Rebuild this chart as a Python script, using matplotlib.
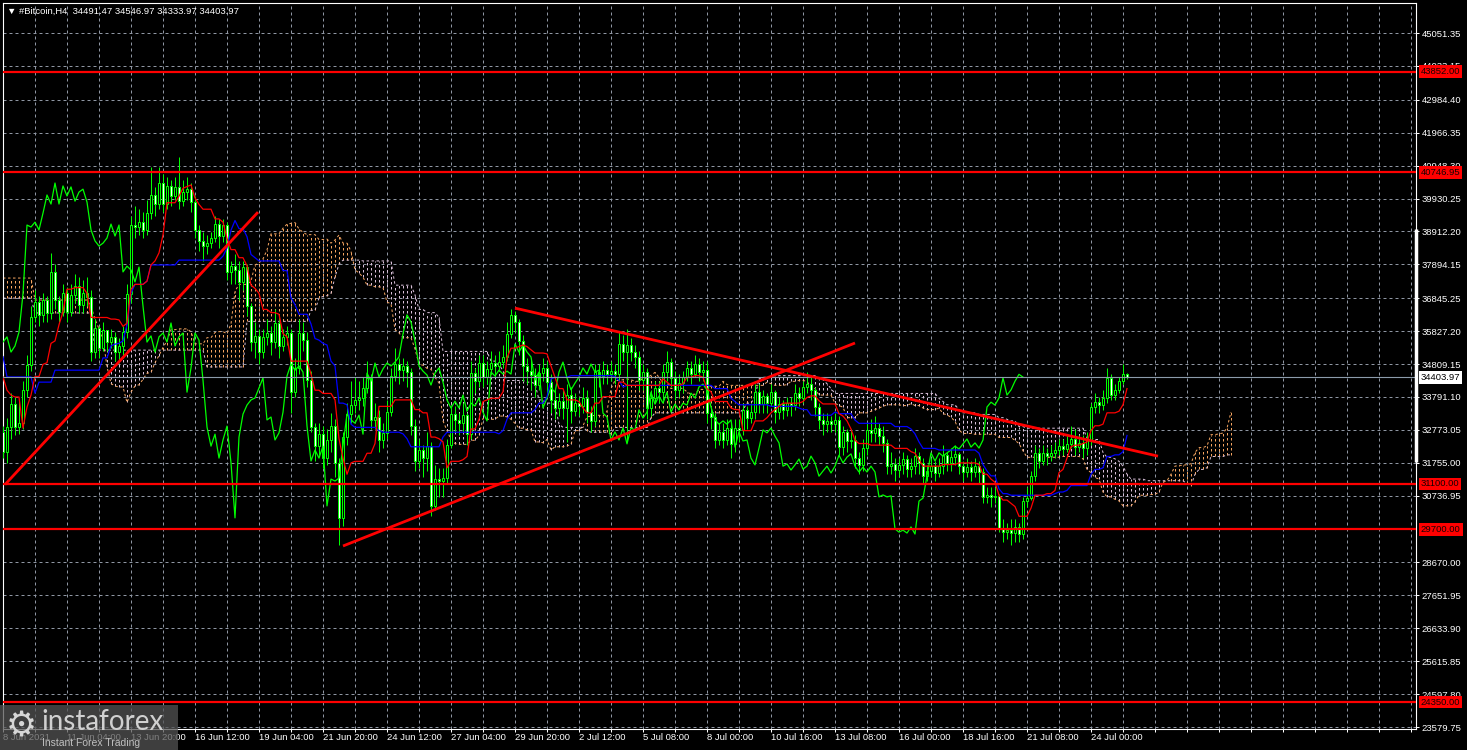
import matplotlib.pyplot as plt
import numpy as np
import pandas as pd
from matplotlib.transforms import blended_transform_factory

plt.rcParams["font.family"] = ["Liberation Sans", "DejaVu Sans"]

# H4 candles, bar 0 = 8 Jun 2021
first_open = 32710.0
closes = [
    32090, 32860, 33570, 32860, 32980, 34010, 34780, 36260, 36730, 36330,
    36790, 36390, 37660, 36790, 36420, 37010, 36420, 36950, 37220, 36640,
    37010, 36880, 35180, 35920, 35300, 35860, 35490, 35650, 35180, 35370,
    35800, 36980, 39110, 39050, 39200, 38960, 39480, 40040, 39760, 40410,
    39760, 40320, 40010, 40290, 39850, 40130, 40220, 39820, 38960, 38620,
    38460, 38550, 38710, 39140, 38770, 39110, 37660, 37840, 37720, 37350,
    37810, 36600, 35490, 35680, 35180, 35650, 35770, 35490, 36080, 35370,
    35650, 35770, 33940, 34690, 35770, 35550, 34310, 32860, 32270, 32640,
    31900, 32460, 32890, 31750, 30050, 32550, 33260, 33540, 33700, 33760,
    34070, 34380, 33080, 33170, 32460, 32680, 33320, 34440, 34810, 34620,
    34750, 34560, 32890, 31810, 32150, 31900, 32270, 30420, 31250, 31190,
    31280, 32300, 33260, 33080, 32980, 33230, 32640, 34530, 34280, 34840,
    34410, 34660, 34840, 34750, 34870, 35030, 35740, 36330, 36110, 35520,
    34750, 34590, 34470, 34160, 34530, 34690, 34250, 33700, 33450, 33660,
    33450, 33850, 33350, 33600, 33510, 33760, 33320, 33050, 34560, 34440,
    34620, 34500, 34590, 34500, 35430, 35180, 35400, 35180, 35030, 34310,
    34560, 33450, 33760, 34070, 33940, 34560, 34870, 34380, 34010, 34220,
    34410, 34690, 34500, 34810, 34560, 34620, 33290, 33170, 32460, 32710,
    32460, 32830, 32340, 32830, 32770, 33390, 33140, 33320, 33940, 33570,
    33820, 33600, 33940, 33320, 33570, 33390, 33600, 33540, 33910, 33760,
    34100, 34190, 34010, 33480, 33080, 32950, 33050, 32950, 33080, 32240,
    32710, 32430, 32460, 31900, 31690, 32210, 32770, 32680, 32830, 32580,
    32370, 31650, 31720, 31530, 31690, 31870, 31560, 31650, 31960, 31750,
    31340, 31500, 31650, 31440, 31650, 31990, 31750, 31930, 32030, 31650,
    31470, 31620, 31470, 31650, 31470, 30700, 30760, 30700, 30730, 29710,
    29610, 29670, 29580, 29770, 29550, 30570, 30660, 31350, 32060, 31810,
    32060, 31960, 32060, 32150, 32270, 32180, 32340, 32490, 32240, 32370,
    32210, 32460, 33480, 33630, 33540, 33760, 34380, 33850, 34010, 34280,
    34491.47, 34403.97,
]
highs = [
    32900, 33150, 33900, 33800, 33700, 34300, 35100, 36600, 37100, 36900,
    37000, 36900, 38250, 37900, 36900, 37300, 37200, 37300, 37600, 37500,
    37400, 37500, 37100, 36200, 36000, 36100, 35800, 35900, 35800, 35600,
    36000, 37300, 39400, 39700, 39600, 39500, 39900, 40900, 40300, 40900,
    40700, 40600, 40500, 40600, 41200, 40500, 40600, 40400, 40000, 39100,
    38900, 38800, 38900, 39400, 39300, 39300, 39200, 38000, 38200, 38000,
    38000, 37900, 36700, 36100, 35900, 35900, 36200, 36000, 36500, 36300,
    35900, 36000, 35900, 35000, 36200, 36100, 35800, 34600, 33000, 33000,
    32900, 32800, 33300, 33100, 31900, 32700, 33600, 34300, 34400, 34300,
    34400, 34900, 34500, 33600, 33400, 33000, 33700, 34700, 35300, 35000,
    35000, 34900, 34700, 33100, 32500, 32300, 32700, 32400, 31700, 31600,
    31600, 32500, 33500, 33500, 33300, 33600, 33300, 34900, 34700, 35100,
    35100, 34900, 35200, 35100, 35200, 35400, 36100, 36500, 36450, 36200,
    35700, 35000, 35000, 34700, 34800, 35000, 34900, 34500, 34000, 33900,
    34000, 34200, 34100, 33900, 33800, 34100, 34000, 33500, 34800, 34800,
    34900, 34800, 34900, 34800, 35800, 35700, 35900, 35600, 35400, 35200,
    34800, 34700, 34000, 34300, 34300, 34800, 35200, 35000, 34600, 34500,
    34600, 34900, 34900, 35100, 35000, 34900, 34900, 33500, 33300, 33000,
    33000, 33100, 33000, 33100, 33100, 33600, 33500, 33600, 34200, 34200,
    34000, 33900, 34200, 34000, 33800, 33700, 33800, 33800, 34200, 34100,
    34300, 34550, 34400, 34100, 33600, 33300, 33300, 33200, 33300, 33200,
    32900, 32800, 32800, 32600, 32100, 32500, 33000, 33100, 33200, 33000,
    32900, 32500, 32100, 31900, 31900, 32100, 32000, 31900, 32200, 32100,
    31900, 31700, 31900, 31800, 31900, 32300, 32100, 32200, 32300, 32100,
    31800, 31900, 31800, 31900, 31800, 31600, 31000, 31000, 31000, 30800,
    30000, 29900, 30000, 30000, 29900, 30700, 31000, 31500, 32300, 32200,
    32300, 32200, 32300, 32400, 32500, 32500, 32600, 32900, 32800, 32600,
    32600, 32700, 33600, 33900, 33800, 34000, 34700, 34500, 34200, 34400,
    34800, 34546.97,
]
lows = [
    31900, 31750, 32500, 32600, 32650, 32800, 33800, 34600, 36100, 36000,
    36100, 36100, 36200, 36500, 36100, 36300, 36100, 36300, 36700, 36400,
    36400, 36600, 34900, 35000, 35000, 35200, 35200, 35300, 34900, 34850,
    35100, 35600, 36700, 38700, 38800, 38700, 38800, 39300, 39400, 39600,
    39500, 39600, 39700, 39900, 39600, 39700, 39900, 39500, 38700, 38300,
    38000, 38200, 38400, 38600, 38400, 38600, 37400, 37300, 37300, 36800,
    37100, 36300, 35200, 35000, 34800, 35000, 35400, 35100, 35300, 35000,
    35200, 35400, 33300, 33800, 34500, 35200, 34100, 32700, 31800, 32000,
    31600, 31700, 32100, 31300, 29200, 29800, 32300, 33000, 33300, 33400,
    33500, 33900, 32800, 32800, 32100, 32200, 32500, 33200, 34300, 34200,
    34300, 34100, 32600, 31500, 31600, 31300, 31500, 30100, 30300, 30700,
    30700, 31100, 32200, 32700, 32600, 32700, 32300, 32500, 33900, 34100,
    34100, 34200, 34500, 34400, 34600, 34700, 34900, 35600, 35800, 35100,
    34300, 34200, 34000, 33800, 34000, 34300, 33900, 33300, 33100, 33200,
    33100, 32400, 33000, 33200, 33200, 33300, 33000, 32700, 32900, 34100,
    34200, 34200, 34300, 34200, 34300, 34900, 32400, 34900, 34700, 34000,
    34000, 33100, 33200, 33600, 33600, 33700, 34300, 34100, 33700, 33800,
    33900, 34300, 34200, 34400, 34300, 34300, 33000, 32800, 32200, 32300,
    32200, 32300, 31900, 32100, 32400, 32600, 32800, 33000, 33100, 33300,
    33300, 33300, 33500, 33000, 33100, 33100, 33200, 33200, 33400, 33500,
    33600, 33900, 33700, 33200, 32800, 32600, 32700, 32700, 32700, 32000,
    32000, 32100, 32200, 31600, 31400, 31500, 32000, 32400, 32400, 32300,
    32100, 31400, 31400, 31200, 31300, 31400, 31300, 31300, 31400, 31400,
    31100, 31200, 31300, 31200, 31300, 31400, 31500, 31500, 31700, 31400,
    31200, 31300, 31200, 31300, 31100, 30500, 30500, 30400, 30500, 29600,
    29300, 29400, 29200, 29300, 29300, 29400, 30400, 30600, 31200, 31600,
    31700, 31700, 31800, 31900, 32000, 32000, 32100, 32200, 32000, 32100,
    31900, 32000, 32300, 33300, 33300, 33400, 33600, 33700, 33700, 33900,
    34200, 34333.97,
]

# Ichimoku values at the left edge, where the window reaches back before bar 0
tenkan_head = [34410, 34000, 33850, 33790, 33790, 32830, 33480, 33850]
kijun_head = [
    35040, 34410, 34410, 34410, 34410, 34410, 34410, 34410, 33910, 34250,
    34250, 34250, 34250, 34620, 34620, 34620, 34620, 34620, 34620, 34620,
    34620, 34620, 34620, 34620, 34620,
]
span_a_head = [
    37470, 37470, 37470, 37470, 37470, 37470, 37470, 37470, 36790, 36790,
    36790, 36790, 36790, 36790, 36790, 36790, 36790, 36790, 36790, 36790,
    36790, 36790, 36600, 36200, 35900, 35600,
]
span_b_head = [
    36850, 36850, 36850, 36850, 36850, 36850, 36850, 36850, 36390, 36390,
    36390, 36390, 36390, 36390, 36390, 36390, 36390, 36390, 36390, 36390,
    36390, 36390, 36390, 35240, 35240, 35240, 35240, 35240, 35240, 35240,
    35240, 35240, 35240, 35240, 35240, 35240, 35240, 35240, 35240, 35240,
    35240, 35240, 35240, 35240, 35240, 35240, 35240, 35240, 35240, 35240,
    35240, 34720, 34720, 34720, 34720, 34720, 34720, 34720, 34720, 34720,
    34720, 36130, 36130, 36130, 36130, 36130, 36130, 36130, 36130, 36130,
    36130, 36130, 36130, 36130, 36130, 36130, 36130,
]

price_ticks = [
    45051.35, 44033.15, 42984.40, 41966.35, 40948.30, 39930.25, 38912.20,
    37894.15, 36845.25, 35827.20, 34809.15, 33791.10, 32773.05, 31755.00,
    30736.95, 28670.00, 27651.95, 26633.90, 25615.85, 24597.80, 23579.75,
]
date_labels = [
    "8 Jun 2021", "11 Jun 04:00", "13 Jun 20:00", "16 Jun 12:00",
    "19 Jun 04:00", "21 Jun 20:00", "24 Jun 12:00", "27 Jun 04:00",
    "29 Jun 20:00", "2 Jul 12:00", "5 Jul 08:00", "8 Jul 00:00",
    "10 Jul 16:00", "13 Jul 08:00", "16 Jul 00:00", "18 Jul 16:00",
    "21 Jul 08:00", "24 Jul 00:00",
]
levels = [43852.00, 40746.95, 31100.00, 29700.00, 24350.00]
last_price = 34403.97
trend_bars = [(0.5, 63.75), (85, 213), (128, 288.75)]
trend_prices = [(31080, 39510), (29180, 35460), (36540, 31960)]
scale_marker = [38980, 31780]
header = "\u25bc #Bitcoin,H4  34491.47 34546.97 34333.97 34403.97"

LIME = "#00ff00"
SANDY = "#f4a460"
THISTLE = "#d8bfd8"
GRID = "#8f96a3"

# ---- Ichimoku (9, 26, 52) ----
n = len(closes)
bars = np.arange(n)
c = np.array(closes, dtype=float)
h = np.array(highs, dtype=float)
l = np.array(lows, dtype=float)
o = np.r_[first_open, c[:-1]]
hs, ls = pd.Series(h), pd.Series(l)
tenkan = ((hs.rolling(9).max() + ls.rolling(9).min()) / 2).to_numpy()
tenkan[:8] = tenkan_head
kijun = ((hs.rolling(26).max() + ls.rolling(26).min()) / 2).to_numpy()
kijun[:25] = kijun_head
span_a = np.r_[span_a_head, (tenkan + kijun) / 2]
span_b_calc = ((hs.rolling(52).max() + ls.rolling(52).min()) / 2).to_numpy()
span_b = np.r_[span_b_head, span_b_calc[51:]]
cloud_bars = np.arange(len(span_a))

fig = plt.figure(figsize=(14.67, 7.5), dpi=100, facecolor="black")
ax = fig.add_axes([3 / 1467, 21 / 750, 1413 / 1467, 726 / 750], facecolor="black")
ax.set_xlim(0, 353.25)
ax.set_ylim(23518, 45980)

for b in range(8, 353, 8):
    ax.axvline(b, color=GRID, lw=0.72, dashes=(3, 3), zorder=1)
for p in price_ticks:
    ax.axhline(p, color=GRID, lw=0.72, dashes=(3, 3), zorder=1)

# cloud: dotted histogram between the spans
lo = np.minimum(span_a, span_b)
hi = np.maximum(span_a, span_b)
cloud_colors = np.where(span_a >= span_b, SANDY, THISTLE)
ax.vlines(cloud_bars, lo, hi, colors=cloud_colors, lw=0.72,
          linestyles=(0, (2.5, 2.5)), zorder=2)
ax.plot(cloud_bars, span_a, color=SANDY, lw=0.72, dashes=(2.5, 2.5), zorder=2)
ax.plot(cloud_bars, span_b, color=THISTLE, lw=0.72, dashes=(2.5, 2.5), zorder=2)

# candles
up = c >= o
body_lo = np.minimum(o, c)
body_h = np.maximum(np.abs(c - o), 25)
ax.vlines(bars, l, h, color=LIME, lw=0.72, zorder=3)
ax.bar(bars, body_h, bottom=body_lo, width=0.55,
       color=np.where(up, "black", "white"), edgecolor=LIME,
       linewidth=0.72, zorder=3.1)

ax.plot(bars[: n - 26], c[26:], color=LIME, lw=0.9, zorder=4)
ax.plot(bars, kijun, color="#0000ff", lw=0.9, zorder=4)
ax.plot(bars, tenkan, color="#ff0000", lw=0.9, zorder=4)

ax.axhline(last_price, color="#8c9bab", lw=0.8, zorder=4.5)
for p in levels:
    ax.axhline(p, color="#ff0000", lw=1.6, zorder=5)
for xs, ys in zip(trend_bars, trend_prices):
    ax.plot(xs, ys, color="#ff0000", lw=2.0, zorder=5, solid_capstyle="butt")

for side in ax.spines.values():
    side.set_color("white")
    side.set_linewidth(0.8)

ax.yaxis.tick_right()
ax.set_yticks(price_ticks, [f"{p:.2f}" for p in price_ticks])
ax.tick_params(axis="y", colors="white", labelsize=6.8, length=2.2,
               width=0.72, pad=1.9)
ax.set_xticks(range(0, 273, 16), date_labels)
ax.set_xticks(range(8, 353, 8), minor=True)
ax.tick_params(axis="x", which="both", colors="white", labelsize=6.8,
               length=2.2, width=0.72, pad=1)
for lab in ax.get_xticklabels():
    lab.set_ha("left")

tr = blended_transform_factory(ax.transAxes, ax.transData)
for p in levels:
    ax.text(1.0035, p, f"{p:.2f}", transform=tr, ha="left", va="center",
            fontsize=6.8, color="#1a0000", clip_on=False, zorder=6,
            bbox=dict(boxstyle="square,pad=0.2", fc="#ff0000", ec="none"))
ax.text(1.0035, last_price, f"{last_price:.2f}", transform=tr, ha="left",
        va="center", fontsize=6.8, color="black", clip_on=False, zorder=6,
        bbox=dict(boxstyle="square,pad=0.2", fc="white", ec="none"))
ax.plot([1, 1], scale_marker, transform=tr, color="white", lw=2.5,
        clip_on=False, solid_capstyle="butt", zorder=6)

fig.text(7 / 1467, 1 - 11 / 750, header, color="white", fontsize=6.8,
         va="center", ha="left")

# watermark
logo = fig.add_axes([0, 0, 178 / 1467, 45 / 750])
logo.set_facecolor((0.33, 0.33, 0.33, 0.75))
logo.set_xticks([])
logo.set_yticks([])
for side in logo.spines.values():
    side.set_visible(False)
logo.text(0.12, 0.52, "\u2699", fontsize=25, color="#d6d6d6",
          ha="center", va="center", family="DejaVu Sans")
logo.text(0.235, 0.62, "instaforex", fontsize=20, color="#d0d0d0",
          va="center", family="Lato")
logo.text(0.235, 0.16, "Instant Forex Trading", fontsize=7.5,
          color="#c0c0c0", va="center")

fig.savefig("out.png", dpi=100, facecolor="black")
